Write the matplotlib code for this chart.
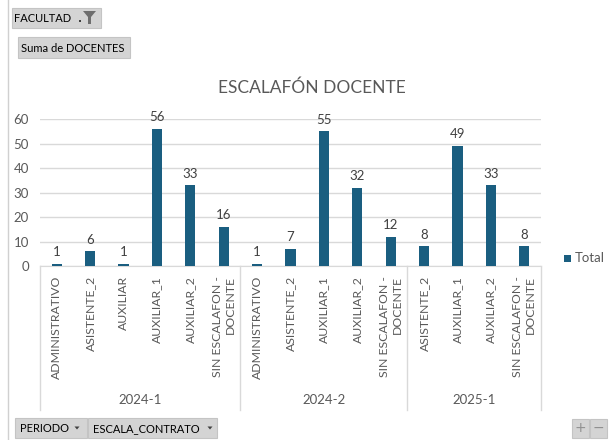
import matplotlib
matplotlib.use('Agg')
import matplotlib.pyplot as plt
from matplotlib.patches import Rectangle, Polygon
from matplotlib.lines import Line2D
import matplotlib.transforms as mtransforms

plt.rcParams['font.family'] = ['Lato', 'DejaVu Sans']

periods = ['2024-1', '2024-2', '2025-1']
categories_2024_1 = ['ADMINISTRATIVO', 'ASISTENTE_2', 'AUXILIAR', 'AUXILIAR_1', 'AUXILIAR_2', 'SIN ESCALAFON -\nDOCENTE']
values_2024_1 = [1, 6, 1, 56, 33, 16]
categories_2024_2 = ['ADMINISTRATIVO', 'ASISTENTE_2', 'AUXILIAR_1', 'AUXILIAR_2', 'SIN ESCALAFON -\nDOCENTE']
values_2024_2 = [1, 7, 55, 32, 12]
categories_2025_1 = ['ASISTENTE_2', 'AUXILIAR_1', 'AUXILIAR_2', 'SIN ESCALAFON -\nDOCENTE']
values_2025_1 = [8, 49, 33, 8]
y_ticks = [0, 10, 20, 30, 40, 50, 60]

groups = [categories_2024_1, categories_2024_2, categories_2025_1]
group_values = [values_2024_1, values_2024_2, values_2025_1]
labels = [c for g in groups for c in g]
values = [v for g in group_values for v in g]

W, H = 609, 440
BAR = '#1A5E80'
TXT = '#595959'
GRID = '#D9D9D9'

fig = plt.figure(figsize=(W / 100, H / 100), dpi=100)
fig.patch.set_facecolor('white')


def px(x, y):
    return x / W, 1 - y / H


ax = fig.add_axes([40 / W, (H - 266) / H, 501 / W, 147 / H])
x = list(range(len(values)))
ax.bar(x, values, width=0.3, color=BAR, zorder=3)
for xi, v in zip(x, values):
    ax.annotate(str(v), (xi, v), xytext=(0, 4), textcoords='offset points',
                ha='center', va='bottom', fontsize=9.5, color='#404040')

ax.set_xlim(-0.5, len(values) - 0.5)
ax.set_ylim(0, 60)
ax.set_yticks(y_ticks)
ax.yaxis.grid(True, color=GRID, lw=1, zorder=0)
for s in ['top', 'right', 'left']:
    ax.spines[s].set_visible(False)
ax.spines['bottom'].set_color(GRID)
ax.tick_params(axis='y', length=0, pad=8, labelsize=9.5, labelcolor=TXT)
ax.set_xticks(x)
ax.set_xticklabels(labels, rotation=90, multialignment='right')
ax.tick_params(axis='x', length=0, pad=7, labelsize=8.8, labelcolor=TXT)

trans = mtransforms.blended_transform_factory(ax.transData, ax.transAxes)
bottom = -(410 - 266) / 147
bounds = [-0.5]
for g in groups:
    bounds.append(bounds[-1] + len(g))
for b in bounds:
    ax.add_line(Line2D([b, b], [0, bottom], transform=trans, color=GRID, lw=1, clip_on=False))
for i, p in enumerate(periods):
    mid = (bounds[i] + bounds[i + 1]) / 2
    ax.text(mid, -(400 - 266) / 147, p, transform=trans, ha='center', va='center',
            fontsize=9.5, color=TXT, clip_on=False)

# title
fig.text(*px(312, 88), 'ESCALAFÓN DOCENTE', ha='center', va='center', fontsize=12.5, color=TXT)

# legend
fig.patches.append(Rectangle(px(564, 262), 7 / W, 7 / H, transform=fig.transFigure,
                             facecolor=BAR, edgecolor='none'))
fig.text(*px(575, 258), 'Total', ha='left', va='center', fontsize=9.5, color=TXT)

# left border
fig.add_artist(Line2D([7.5 / W, 7.5 / W], [0, 1], transform=fig.transFigure, color='#D0D0D0', lw=1))


def button(x0, y0, x1, y1, text=None, fs=8, tx=None):
    fig.patches.append(Rectangle(px(x0, y1), (x1 - x0) / W, (y1 - y0) / H, transform=fig.transFigure,
                                 facecolor='#D4D4D4', edgecolor='#C4C4C4', lw=0.8))
    if text:
        fig.text(*px(tx if tx is not None else x0 + 4, (y0 + y1) / 2 + 0.5), text, ha='left', va='center',
                 fontsize=fs, color='#000000')


def arrow(xc, yc):
    fig.patches.append(Polygon([px(xc - 2.5, yc - 1.5), px(xc + 2.5, yc - 1.5), px(xc, yc + 1.5)],
                               closed=True, transform=fig.transFigure, facecolor='#404040', edgecolor='none'))


button(12, 8, 101, 28, 'FACULTAD', tx=14)
fig.patches.append(Rectangle(px(79, 22), 2 / W, 2 / H, transform=fig.transFigure,
                             facecolor='#404040', edgecolor='none'))
fig.patches.append(Polygon([px(83, 11), px(96, 11), px(91, 17), px(91, 24), px(88, 24), px(88, 17)],
                           closed=True, transform=fig.transFigure, facecolor='#6E6E6E', edgecolor='none'))
button(18, 37, 130, 58, 'Suma de DOCENTES', tx=21)

button(15, 418, 87, 438, 'PERIODO', tx=20)
arrow(77, 428)
button(88, 418, 217, 438, 'ESCALA_CONTRATO', tx=93)
arrow(210, 428)

button(572, 419, 589, 438)
button(590, 419, 607, 438)
fig.text(*px(580.5, 428), '+', ha='center', va='center', fontsize=10, color='#909090', family=['DejaVu Sans'])
fig.text(*px(598.5, 428), '−', ha='center', va='center', fontsize=10, color='#909090', family=['DejaVu Sans'])

fig.savefig('out.png', dpi=100)
